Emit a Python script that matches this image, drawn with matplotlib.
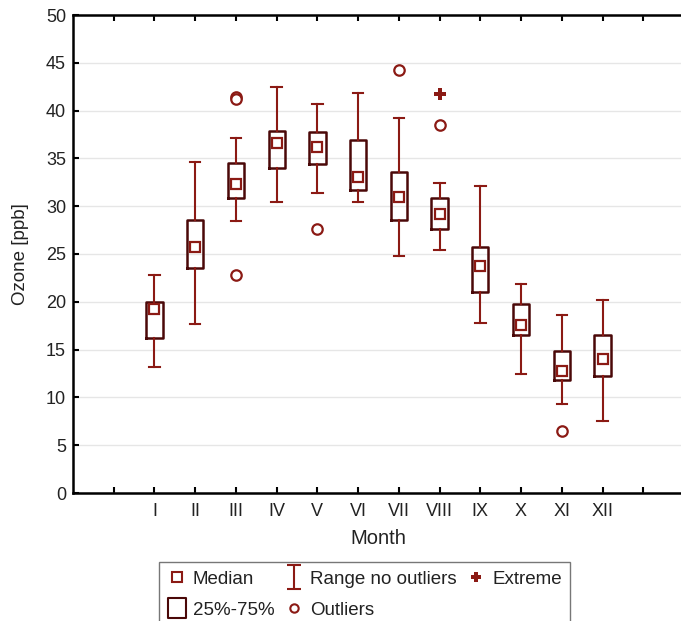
import numpy as np
import matplotlib
matplotlib.use("Agg")
import matplotlib.pyplot as plt
from matplotlib.lines import Line2D
from matplotlib.path import Path

plt.rcParams['font.family'] = ['Liberation Sans', 'DejaVu Sans']

# box statistics per month (ozone, ppb)
months = ['I', 'II', 'III', 'IV', 'V', 'VI', 'VII', 'VIII', 'IX', 'X', 'XI', 'XII']
medians = [19.2, 25.7, 32.3, 36.6, 36.2, 33.1, 31.0, 29.2, 23.7, 17.6, 12.8, 14.0]
q1 = [16.2, 23.5, 30.9, 34.0, 34.4, 31.7, 28.6, 27.6, 21.05, 16.5, 11.8, 12.2]
q3 = [20.0, 28.6, 34.5, 37.9, 37.8, 36.9, 33.6, 30.9, 25.7, 19.75, 14.9, 16.5]
whis_lo = [13.2, 17.7, 28.4, 30.4, 31.4, 30.4, 24.8, 25.4, 17.8, 12.5, 9.3, 7.5]
whis_hi = [22.8, 34.6, 37.1, 42.5, 40.7, 41.8, 39.2, 32.4, 32.1, 21.9, 18.6, 20.2]
outliers = [[], [], [41.4, 41.2, 22.8], [], [27.6], [], [44.2], [38.5], [], [], [6.5], []]
extreme_month = [8]
extreme_val = [41.7]

red = '#8b1a14'
dark = '#4a0808'

fig = plt.figure(figsize=(6.81, 6.21), dpi=100)
ax = fig.add_axes([73/681, 128/621, 611/681, 478/621])

pos = np.arange(1, len(months) + 1)
stats = []
for i in range(len(months)):
    stats.append(dict(med=medians[i], q1=q1[i], q3=q3[i], whislo=whis_lo[i],
                      whishi=whis_hi[i], fliers=outliers[i]))

ax.bxp(stats, positions=pos, widths=0.4, showfliers=True,
       boxprops=dict(color=dark, linewidth=1.8),
       whiskerprops=dict(color=red, linewidth=1.5),
       capprops=dict(color=red, linewidth=1.5),
       medianprops=dict(linestyle='none'),
       flierprops=dict(marker='o', markerfacecolor='white', markeredgecolor=red,
                       markersize=7.5, markeredgewidth=1.6),
       capwidths=0.26, zorder=3)
ax.plot(pos, medians, ls='none', marker='s', markersize=7, markerfacecolor='white',
        markeredgecolor=red, markeredgewidth=1.6, zorder=4)
ax.plot(extreme_month, extreme_val, ls='none', marker='P', markersize=8,
        color=red, markeredgewidth=0, zorder=4)

ax.set_xlim(-1, 14)
ax.set_ylim(0, 50)
ax.set_xticks(np.arange(0, 15))
ax.set_xticklabels([''] + months + ['', ''])
ax.set_yticks(np.arange(0, 51, 5))
ax.yaxis.grid(True, color='#e6e6e6', linewidth=1)
ax.set_axisbelow(True)
ax.tick_params(axis='x', direction='in', top=True, length=4, width=1.5,
               labelsize=13, pad=7, labelcolor='#222222')
ax.tick_params(axis='y', direction='in', length=4, width=1.5, labelsize=13, pad=5,
               labelcolor='#222222')
for s in ['left', 'bottom', 'top']:
    ax.spines[s].set_linewidth(1.8)
ax.spines['right'].set_visible(False)

ax.set_xlabel('Month', fontsize=14.5, labelpad=7, color='#222222')
ax.set_ylabel('Ozone [ppb]', fontsize=13.5, labelpad=12, color='#222222')

# legend handles
rect = Path([(-0.42, -0.5), (0.42, -0.5), (0.42, 0.5), (-0.42, 0.5), (-0.42, -0.5)],
            [Path.MOVETO, Path.LINETO, Path.LINETO, Path.LINETO, Path.CLOSEPOLY])
ibeam = Path([(-0.3, 0.5), (0.3, 0.5), (0, 0.5), (0, -0.5), (-0.3, -0.5), (0.3, -0.5)],
             [Path.MOVETO, Path.LINETO, Path.MOVETO, Path.LINETO, Path.MOVETO, Path.LINETO])
handles = [
    Line2D([], [], ls='none', marker='s', markersize=6.5, markerfacecolor='white',
           markeredgecolor=red, markeredgewidth=1.5),
    Line2D([], [], ls='none', marker=rect, markersize=15, markerfacecolor='white',
           markeredgecolor=dark, markeredgewidth=1.5),
    Line2D([], [], ls='none', marker=ibeam, markersize=17.5, markerfacecolor='none',
           markeredgecolor=red, markeredgewidth=1.5),
    Line2D([], [], ls='none', marker='o', markersize=6, markerfacecolor='white',
           markeredgecolor=red, markeredgewidth=1.5),
    Line2D([], [], ls='none', marker='P', markersize=7.5, color=red, markeredgewidth=0),
]
labels = ['Median', '25%-75%', 'Range no outliers', 'Outliers', 'Extreme']
leg = fig.legend(handles, labels, ncol=3, loc='upper left',
                 bbox_to_anchor=(159/681, 59/621), fontsize=13.5, frameon=True,
                 fancybox=False, edgecolor='#555555', handlelength=1.0,
                 handletextpad=0.35, columnspacing=0.55, labelspacing=0.75,
                 borderpad=0.45, borderaxespad=0)
leg.get_frame().set_linewidth(1.0)
for t in leg.get_texts():
    t.set_color('#222222')

fig.savefig('out.png', dpi=100)
